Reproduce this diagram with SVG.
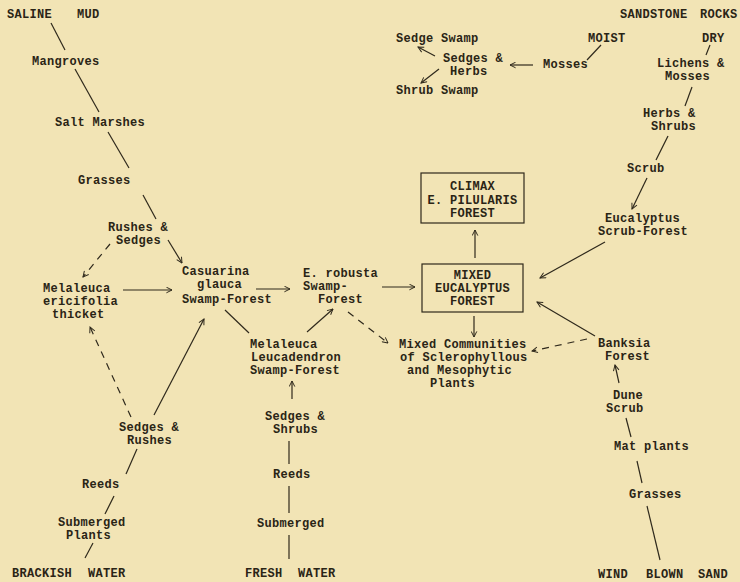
<svg xmlns="http://www.w3.org/2000/svg" width="740" height="582" viewBox="0 0 740 582">
<style>
text{font-family:"Liberation Mono","Courier New",monospace;font-size:12px;letter-spacing:0.3px;fill:#2a2416;font-weight:bold}
.c line,.c path{stroke:#2f291c;stroke-width:1.2;fill:none}
.d{stroke-dasharray:7 6}
.box{fill:none;stroke:#2f291c;stroke-width:1.2}
.m{text-anchor:middle}
</style>
<defs>
<marker id="a" viewBox="0 0 10 10" refX="9" refY="5" markerWidth="7" markerHeight="7" markerUnits="userSpaceOnUse" orient="auto"><path d="M1,1 L9,5 L1,9" fill="none" stroke="#2f291c" stroke-width="1.4"/></marker>
</defs>
<rect width="740" height="582" fill="#f2e4b5"/>
<g class="c" id="connectors">
<line x1="51" y1="23" x2="65" y2="50"/>
<line x1="75" y1="69" x2="99" y2="112"/>
<line x1="108" y1="132" x2="129" y2="168"/>
<line x1="143" y1="195" x2="156" y2="219"/>
<line x1="168" y1="240" x2="182" y2="263" marker-end="url(#a)"/>
<line class="d" x1="110" y1="244" x2="83" y2="277" marker-end="url(#a)"/>
<line x1="123" y1="290" x2="172" y2="290" marker-end="url(#a)"/>
<line class="d" x1="131" y1="417" x2="90" y2="327" marker-end="url(#a)"/>
<line x1="154" y1="415" x2="204" y2="319" marker-end="url(#a)"/>
<line x1="225" y1="310" x2="249" y2="333"/>
<line x1="256" y1="289" x2="290" y2="289" marker-end="url(#a)"/>
<line x1="307" y1="332" x2="333" y2="309" marker-end="url(#a)"/>
<line class="d" x1="348" y1="312" x2="388" y2="343" marker-end="url(#a)"/>
<line x1="382" y1="287" x2="415" y2="287" marker-end="url(#a)"/>
<line x1="475" y1="258" x2="475" y2="230" marker-end="url(#a)"/>
<line x1="474" y1="316" x2="474" y2="337" marker-end="url(#a)"/>
<line x1="605" y1="242" x2="540" y2="278" marker-end="url(#a)"/>
<line x1="595" y1="336" x2="537" y2="302" marker-end="url(#a)"/>
<line class="d" x1="587" y1="339" x2="532" y2="351" marker-end="url(#a)"/>
<line x1="619" y1="383" x2="615" y2="365" marker-end="url(#a)"/>
<line x1="626" y1="418" x2="631" y2="437"/>
<line x1="637" y1="461" x2="642" y2="483"/>
<line x1="647" y1="506" x2="660" y2="560"/>
<line x1="292" y1="399" x2="292" y2="381" marker-end="url(#a)"/>
<line x1="289" y1="441" x2="289" y2="464"/>
<line x1="289" y1="486" x2="289" y2="513"/>
<line x1="289" y1="535" x2="289" y2="559"/>
<line x1="137" y1="449" x2="126" y2="474"/>
<line x1="114" y1="496" x2="105" y2="514"/>
<line x1="93" y1="543" x2="85" y2="558"/>
<line x1="601" y1="45" x2="587" y2="60"/>
<line x1="533" y1="65" x2="510" y2="65" marker-end="url(#a)"/>
<line x1="435" y1="56" x2="418" y2="47" marker-end="url(#a)"/>
<line x1="439" y1="69" x2="421" y2="83" marker-end="url(#a)"/>
<line x1="710" y1="45" x2="706" y2="55"/>
<line x1="692" y1="87" x2="685" y2="106"/>
<line x1="668" y1="136" x2="656" y2="160"/>
<line x1="647" y1="178" x2="632" y2="209" marker-end="url(#a)"/>
</g>
<g id="saline-mud"><text x="7" y="18">SALINE</text><text x="77" y="18">MUD</text></g>
<g id="mangroves"><text x="32" y="65">Mangroves</text></g>
<g id="salt-marshes"><text x="55" y="126">Salt Marshes</text></g>
<g id="grasses-left"><text x="78" y="184">Grasses</text></g>
<g id="rushes-sedges"><text x="108" y="231">Rushes &amp;</text><text x="116" y="244">Sedges</text></g>
<g id="melaleuca-ericifolia"><text x="43" y="292">Melaleuca</text><text x="43" y="305">ericifolia</text><text x="52" y="318">thicket</text></g>
<g id="casuarina"><text x="182" y="275">Casuarina</text><text x="197" y="288">glauca</text><text x="182" y="303">Swamp-Forest</text></g>
<g id="e-robusta"><text x="303" y="277">E. robusta</text><text x="303" y="290">Swamp-</text><text x="318" y="303">Forest</text></g>
<g id="climax"><rect class="box" x="421" y="173" width="103" height="50"/><text class="m" x="472.5" y="190">CLIMAX</text><text class="m" x="472.5" y="204">E. PILULARIS</text><text class="m" x="472.5" y="217">FOREST</text></g>
<g id="mixed-eucalyptus"><rect class="box" x="422" y="264" width="101" height="48"/><text class="m" x="472.5" y="279">MIXED</text><text class="m" x="472.5" y="292">EUCALYPTUS</text><text class="m" x="472.5" y="305">FOREST</text></g>
<g id="mixed-communities"><text x="399" y="348">Mixed Communities</text><text x="400" y="361">of Sclerophyllous</text><text x="407" y="374">and Mesophytic</text><text x="430" y="387">Plants</text></g>
<g id="melaleuca-leucadendron"><text x="250" y="348">Melaleuca</text><text x="251" y="361">Leucadendron</text><text x="250" y="374">Swamp-Forest</text></g>
<g id="sedges-shrubs"><text x="265" y="420">Sedges &amp;</text><text x="273" y="433">Shrubs</text></g>
<g id="reeds-fresh"><text x="273" y="478">Reeds</text></g>
<g id="submerged-fresh"><text x="257" y="527">Submerged</text></g>
<g id="fresh-water"><text x="245" y="577">FRESH</text><text x="298" y="577">WATER</text></g>
<g id="sedges-rushes"><text x="119" y="431">Sedges &amp;</text><text x="127" y="444">Rushes</text></g>
<g id="reeds-brackish"><text x="82" y="488">Reeds</text></g>
<g id="submerged-plants"><text x="58" y="526">Submerged</text><text x="66" y="539">Plants</text></g>
<g id="brackish-water"><text x="12" y="577">BRACKISH</text><text x="88" y="577">WATER</text></g>
<g id="sandstone-rocks"><text x="620" y="18">SANDSTONE</text><text x="700" y="18">ROCKS</text></g>
<g id="moist"><text x="588" y="42">MOIST</text></g>
<g id="dry"><text x="702" y="42">DRY</text></g>
<g id="sedge-swamp"><text x="396" y="42">Sedge Swamp</text></g>
<g id="sedges-herbs"><text x="443" y="62">Sedges &amp;</text><text x="450" y="75">Herbs</text></g>
<g id="shrub-swamp"><text x="396" y="94">Shrub Swamp</text></g>
<g id="mosses"><text x="543" y="68">Mosses</text></g>
<g id="lichens-mosses"><text x="657" y="67">Lichens &amp;</text><text x="665" y="80">Mosses</text></g>
<g id="herbs-shrubs"><text x="643" y="117">Herbs &amp;</text><text x="651" y="130">Shrubs</text></g>
<g id="scrub"><text x="627" y="172">Scrub</text></g>
<g id="eucalyptus-scrub-forest"><text x="605" y="222">Eucalyptus</text><text x="598" y="235">Scrub-Forest</text></g>
<g id="banksia-forest"><text x="598" y="347">Banksia</text><text x="605" y="360">Forest</text></g>
<g id="dune-scrub"><text x="613" y="399">Dune</text><text x="606" y="412">Scrub</text></g>
<g id="mat-plants"><text x="614" y="450">Mat plants</text></g>
<g id="grasses-right"><text x="629" y="498">Grasses</text></g>
<g id="wind-blown-sand"><text x="598" y="578">WIND</text><text x="646" y="578">BLOWN</text><text x="698" y="578">SAND</text></g>
</svg>
